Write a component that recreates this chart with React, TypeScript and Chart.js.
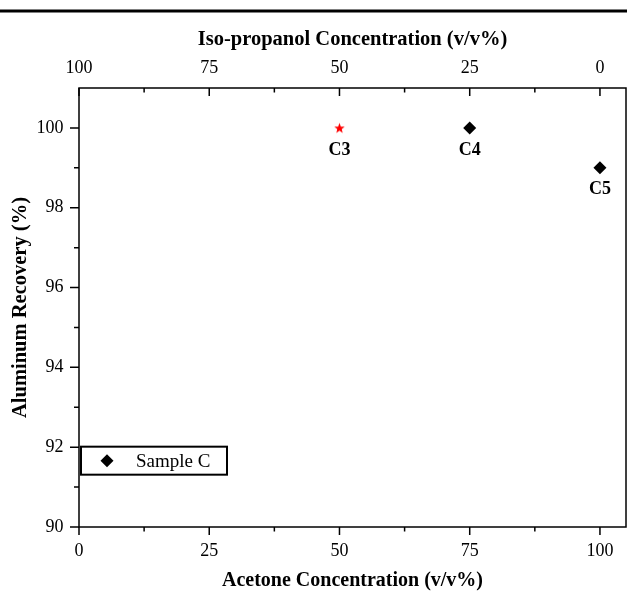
import React, { useEffect, useRef } from 'react';
import { Chart, registerables } from 'chart.js';

Chart.register(...registerables);

// ---- data ----
const acetone = [50, 75, 100];
const recovery = [100, 100, 99];
const sampleNames = ['C3', 'C4', 'C5'];
const seriesLabel = 'Sample C';
const highlightIndex = 0;

// ---- axis tick values ----
const acetoneMajor = [0, 25, 50, 75, 100];
const acetoneMinor = [12.5, 37.5, 62.5, 87.5];
const isoMajor = [100, 75, 50, 25, 0];
const isoMinor = [87.5, 62.5, 37.5, 12.5];
const recoveryMajor = [90, 92, 94, 96, 98, 100];
const recoveryMinor = [91, 93, 95, 97, 99];

const FAMILY = "'Liberation Serif', 'Times New Roman', serif";

function makeStar(color: string, outer: number, inner: number) {
  const size = Math.ceil(outer * 2 + 2);
  const c = document.createElement('canvas');
  c.width = size;
  c.height = size;
  const ctx = c.getContext('2d')!;
  ctx.translate(size / 2, size / 2 + 0.5);
  ctx.beginPath();
  for (let i = 0; i < 10; i++) {
    const r = i % 2 === 0 ? outer : inner;
    const a = -Math.PI / 2 + (i * Math.PI) / 5;
    ctx.lineTo(r * Math.cos(a), r * Math.sin(a));
  }
  ctx.closePath();
  ctx.fillStyle = color;
  ctx.fill();
  return c;
}

const framePlugin = {
  id: 'framePlugin',
  afterDatasetsDraw(chart: any) {
    const ctx = chart.ctx;
    const xs = chart.scales.x;
    const ys = chart.scales.y;
    ctx.save();
    ctx.fillStyle = '#000';
    ctx.font = `bold 18px ${FAMILY}`;
    ctx.textAlign = 'center';
    ctx.textBaseline = 'middle';
    sampleNames.forEach((n, i) => {
      ctx.fillText(n, xs.getPixelForValue(acetone[i]), ys.getPixelForValue(recovery[i]) + 22);
    });
    ctx.restore();
  },
  afterDraw(chart: any) {
    const ctx = chart.ctx;
    const { left, right, top, bottom } = chart.chartArea;
    const xs = chart.scales.x;
    const x2 = chart.scales.x2;
    const ys = chart.scales.y;
    ctx.save();
    // top rule
    ctx.fillStyle = '#000';
    ctx.fillRect(0, 9.5, chart.width, 3);
    // frame
    ctx.strokeStyle = '#000';
    ctx.lineWidth = 1.5;
    ctx.strokeRect(left, top, right - left, bottom - top);
    const MAJ = 8;
    const MIN = 4.5;
    ctx.beginPath();
    acetoneMajor.forEach((v) => {
      const p = xs.getPixelForValue(v);
      ctx.moveTo(p, bottom);
      ctx.lineTo(p, bottom + MAJ);
    });
    acetoneMinor.forEach((v) => {
      const p = xs.getPixelForValue(v);
      ctx.moveTo(p, bottom);
      ctx.lineTo(p, bottom + MIN);
    });
    isoMajor.forEach((v) => {
      const p = x2.getPixelForValue(v);
      ctx.moveTo(p, top);
      ctx.lineTo(p, top + MAJ);
    });
    isoMinor.forEach((v) => {
      const p = x2.getPixelForValue(v);
      ctx.moveTo(p, top);
      ctx.lineTo(p, top + MIN);
    });
    recoveryMajor.forEach((v) => {
      const p = ys.getPixelForValue(v);
      ctx.moveTo(left, p);
      ctx.lineTo(left - MAJ - 1, p);
    });
    recoveryMinor.forEach((v) => {
      const p = ys.getPixelForValue(v);
      ctx.moveTo(left, p);
      ctx.lineTo(left - MIN - 0.5, p);
    });
    ctx.stroke();

    // legend box
    const bx = left + 2;
    const by = ys.getPixelForValue(92) - 0.5;
    const bw = 146;
    const bh = 28;
    ctx.lineWidth = 2;
    ctx.strokeRect(bx, by, bw, bh);
    const cx = bx + 26;
    const cy = by + bh / 2;
    const r = 6.5;
    ctx.beginPath();
    ctx.moveTo(cx, cy - r);
    ctx.lineTo(cx + r, cy);
    ctx.lineTo(cx, cy + r);
    ctx.lineTo(cx - r, cy);
    ctx.closePath();
    ctx.fill();
    ctx.font = `19px ${FAMILY}`;
    ctx.textAlign = 'left';
    ctx.textBaseline = 'middle';
    ctx.fillText(chart.data.datasets[0].label, bx + 55, cy + 1);
    ctx.restore();
  },
};

export default function App() {
  const ref = useRef<HTMLCanvasElement>(null);
  useEffect(() => {
    if (!ref.current) return;
    const star = makeStar('#ff0000', 5.5, 2.3);
    const tickFont = { family: FAMILY, size: 18 };
    const titleFont = { family: FAMILY, size: 20, weight: 'bold' as const };
    const titleFontL = { family: FAMILY, size: 20.5, weight: 'bold' as const };
    const chart = new Chart(ref.current, {
      type: 'scatter',
      data: {
        datasets: [
          {
            label: seriesLabel,
            data: acetone.map((x, i) => ({ x, y: recovery[i] })),
            pointStyle: acetone.map((_, i) => (i === highlightIndex ? star : 'rectRot')) as any,
            backgroundColor: acetone.map((_, i) => (i === highlightIndex ? '#ff0000' : '#000')),
            borderColor: acetone.map((_, i) => (i === highlightIndex ? '#ff0000' : '#000')),
            borderWidth: 0,
            pointRadius: 6.5,
            clip: false as any,
          },
        ],
      },
      options: {
        animation: false,
        responsive: false,
        events: [],
        layout: { autoPadding: false, padding: { left: 0, right: 1, top: 0, bottom: 0 } },
        plugins: { legend: { display: false }, tooltip: { enabled: false } },
        scales: {
          x: {
            type: 'linear',
            position: 'bottom',
            min: 0,
            max: 105,
            afterFit: (s: any) => {
              s.height = 67;
              s.paddingLeft = 0;
              s.paddingRight = 0;
            },
            grid: { display: false, drawTicks: false },
            border: { display: false },
            ticks: { stepSize: 25, includeBounds: false, padding: 13, color: '#000', font: tickFont, maxRotation: 0 },
            title: {
              display: true,
              text: 'Acetone Concentration (v/v%)',
              color: '#000',
              font: titleFont,
              padding: { top: 0, bottom: 1 },
            },
          },
          x2: {
            type: 'linear',
            position: 'top',
            min: -5,
            max: 100,
            reverse: true,
            afterFit: (s: any) => {
              s.height = 88;
              s.paddingLeft = 0;
              s.paddingRight = 0;
            },
            grid: { display: false, drawTicks: false },
            border: { display: false },
            ticks: { stepSize: 25, includeBounds: false, padding: 9, color: '#000', font: tickFont, maxRotation: 0 },
            title: {
              display: true,
              text: 'Iso-propanol Concentration (v/v%)',
              color: '#000',
              font: titleFontL,
              padding: { top: 27, bottom: 0 },
            },
          },
          y: {
            type: 'linear',
            position: 'left',
            min: 90,
            max: 101,
            afterFit: (s: any) => {
              s.width = 79;
              s.paddingTop = 0;
              s.paddingBottom = 0;
            },
            grid: { display: false, drawTicks: false },
            border: { display: false },
            ticks: { stepSize: 2, includeBounds: false, padding: 15.5, color: '#000', font: tickFont },
            title: {
              display: true,
              text: 'Aluminum Recovery (%)',
              color: '#000',
              font: titleFontL,
              padding: { top: 8, bottom: 0 },
            },
          },
        },
      },
      plugins: [framePlugin],
    });
    return () => chart.destroy();
  }, []);
  return (
    <div style={{ position: 'fixed', left: 0, top: 0, width: 627, height: 594, background: '#fff' }}>
      <canvas ref={ref} width={627} height={594} style={{ display: 'block', width: 627, height: 594 }} />
    </div>
  );
}
